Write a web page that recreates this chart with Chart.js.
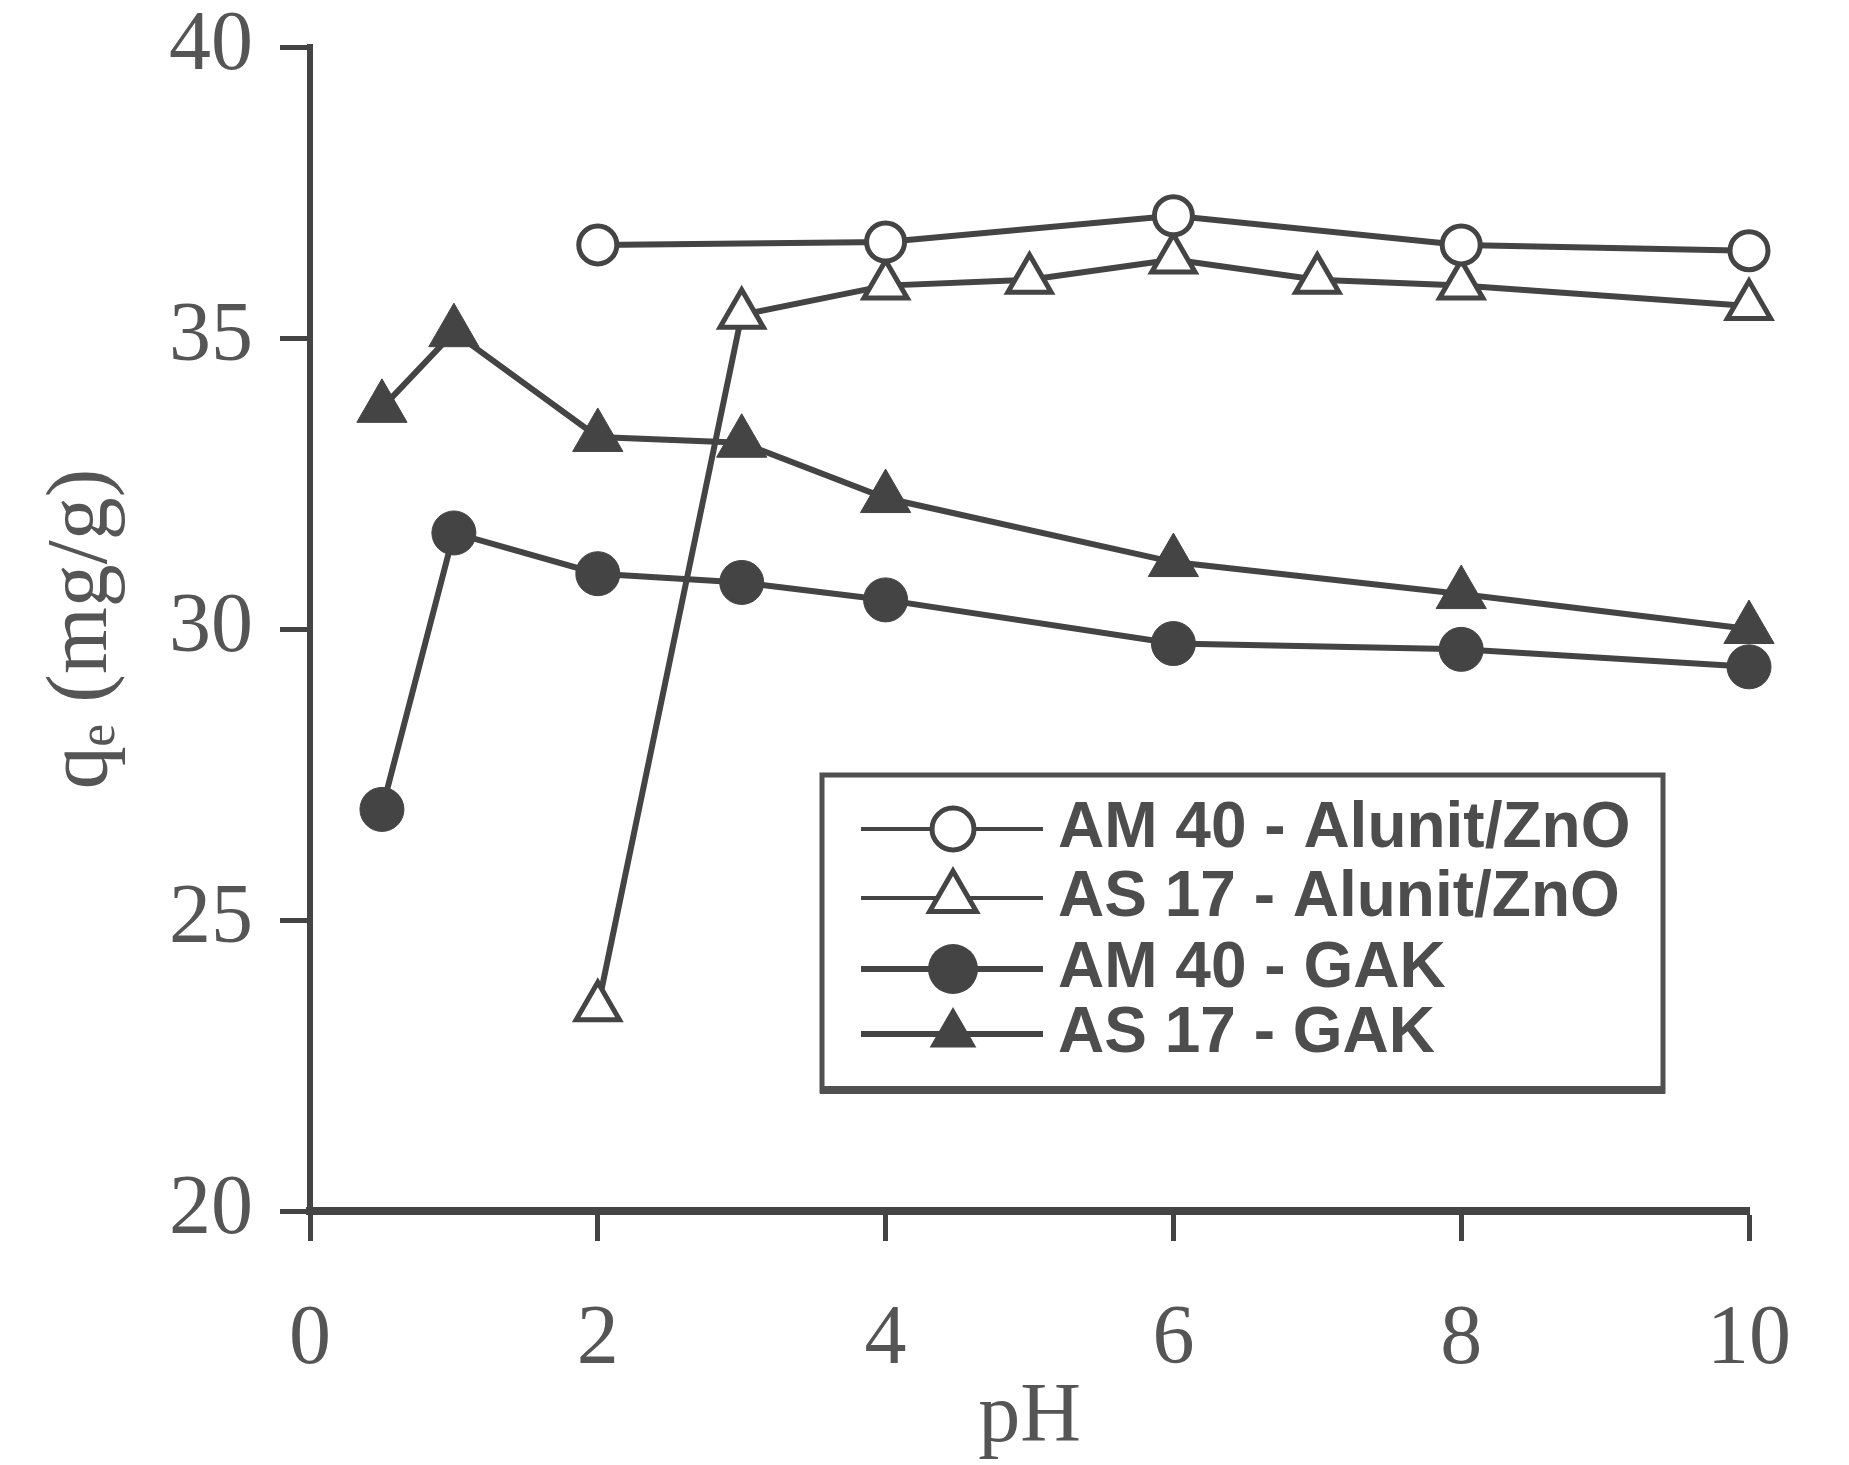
<!DOCTYPE html>
<html>
<head>
<meta charset="utf-8">
<title>qe vs pH</title>
<script src="https://cdn.jsdelivr.net/npm/chart.js@4.4.1/dist/chart.umd.min.js"></script>
<style>
  html, body { margin: 0; padding: 0; background: #fff; }
  #wrap { width: 1849px; height: 1465px; }
</style>
</head>
<body>
<div id="wrap"><canvas id="chart" width="1849" height="1465"></canvas></div>
<script>
// values
const phAmAlunit = [2, 4, 6, 8, 10];
const qeAmAlunit = [36.6, 36.65, 37.1, 36.6, 36.5];

const phAsAlunit = [2, 3, 4, 5, 6, 7, 8, 10];
const qeAsAlunit = [23.5, 35.4, 35.9, 36.0, 36.35, 36.0, 35.9, 35.55];

const phAmGak = [0.5, 1, 2, 3, 4, 6, 8, 10];
const qeAmGak = [26.9, 31.65, 30.95, 30.8, 30.5, 29.75, 29.65, 29.35];

const phAsGak = [0.5, 1, 2, 3, 4, 6, 8, 10];
const qeAsGak = [33.8, 35.1, 33.3, 33.2, 32.25, 31.15, 30.6, 30.0];

const labels = ['AM 40 - Alunit/ZnO', 'AS 17 - Alunit/ZnO', 'AM 40 - GAK', 'AS 17 - GAK'];
const xTicks = [0, 2, 4, 6, 8, 10];
const yTicks = [20, 25, 30, 35, 40];

const ink = '#444444';
const textInk = '#555555';
const serif = '"Liberation Serif", "DejaVu Serif", serif';

function pts(xs, ys) {
    return xs.map((x, i) => ({ x: x, y: ys[i] }));
}

// own legend with a framed box, drawn from the datasets
function drawMarker(ctx, style, r, filled, x, y) {
    ctx.beginPath();
    if (style === 'circle') {
        ctx.arc(x, y, r, 0, Math.PI * 2);
    } else {
        ctx.moveTo(x, y - r);
        ctx.lineTo(x + Math.sin(2 * Math.PI / 3) * r, y + r / 2);
        ctx.lineTo(x - Math.sin(2 * Math.PI / 3) * r, y + r / 2);
        ctx.closePath();
    }
    if (filled) {
        ctx.fillStyle = ink;
        ctx.fill();
    } else {
        ctx.fillStyle = '#fff';
        ctx.fill();
        ctx.lineWidth = 5;
        ctx.strokeStyle = ink;
        ctx.stroke();
    }
}

const boxLegend = {
    id: 'boxLegend',
    afterDraw(chart) {
        const ctx = chart.ctx;
        ctx.save();
        ctx.strokeStyle = '#505050';
        ctx.lineWidth = 5;
        ctx.strokeRect(822, 775, 841, 316);
        ctx.lineWidth = 8;
        ctx.beginPath();
        ctx.moveTo(820, 1090);
        ctx.lineTo(1665, 1090);
        ctx.stroke();

        const rows = [829, 898, 969, 1034];
        const legendR = [21, 27, 25, 27];
        const lineW = [4, 4, 6, 6];
        chart.data.datasets.forEach((ds, i) => {
            const y = rows[i];
            ctx.strokeStyle = ink;
            ctx.lineWidth = lineW[i];
            ctx.beginPath();
            ctx.moveTo(861, y);
            ctx.lineTo(1043, y);
            ctx.stroke();
            drawMarker(ctx, ds.pointStyle, legendR[i], ds.pointBackgroundColor === ink, 953, y);
            ctx.fillStyle = '#4d4d4d';
            ctx.font = 'bold 64px "Liberation Sans", Arial, sans-serif';
            ctx.textAlign = 'left';
            ctx.textBaseline = 'middle';
            ctx.fillText(ds.label, 1058, y);
        });
        ctx.restore();
    }
};

const ctx = document.getElementById('chart').getContext('2d');
new Chart(ctx, {
    type: 'line',
    data: {
        datasets: [
            {
                label: labels[0], data: pts(phAmAlunit, qeAmAlunit), clip: false,
                borderColor: ink, borderWidth: 6,
                pointStyle: 'circle', pointRadius: 19, pointBorderWidth: 5,
                pointBackgroundColor: '#ffffff', pointBorderColor: ink
            },
            {
                label: labels[1], data: pts(phAsAlunit, qeAsAlunit), clip: false,
                borderColor: ink, borderWidth: 6,
                pointStyle: 'triangle', pointRadius: 25, pointBorderWidth: 5,
                pointBackgroundColor: '#ffffff', pointBorderColor: ink
            },
            {
                label: labels[2], data: pts(phAmGak, qeAmGak), clip: false,
                borderColor: ink, borderWidth: 6,
                pointStyle: 'circle', pointRadius: 22, pointBorderWidth: 1,
                pointBackgroundColor: ink, pointBorderColor: ink
            },
            {
                label: labels[3], data: pts(phAsGak, qeAsGak), clip: false,
                borderColor: ink, borderWidth: 6,
                pointStyle: 'triangle', pointRadius: 29, pointBorderWidth: 1,
                pointBackgroundColor: ink, pointBorderColor: ink
            }
        ]
    },
    options: {
        responsive: false,
        animation: false,
        devicePixelRatio: 1,
        layout: { padding: { left: 40, top: 47, right: 96, bottom: 4 } },
        plugins: {
            legend: { display: false },
            tooltip: { enabled: false }
        },
        scales: {
            x: {
                type: 'linear',
                min: 0, max: 10,
                afterFit: (s) => { s.height = 250; },
                afterBuildTicks: (s) => { s.ticks = xTicks.map(v => ({ value: v })); },
                border: { display: true, color: ink, width: 8 },
                grid: { drawOnChartArea: false, drawTicks: true, tickLength: 30, tickWidth: 5, tickColor: ink },
                ticks: {
                    color: textInk, padding: 58,
                    font: { family: serif, size: 84, lineHeight: 1 }
                },
                title: {
                    display: true, text: 'pH', color: textInk,
                    padding: 0,
                    font: { family: serif, size: 84, lineHeight: 1 }
                }
            },
            y: {
                type: 'linear',
                min: 20, max: 40,
                afterFit: (s) => {
                    s.width = 270;
                    s.paddingTop = 0;
                    s.paddingBottom = 0;
                },
                afterBuildTicks: (s) => { s.ticks = yTicks.map(v => ({ value: v })); },
                border: { display: true, color: ink, width: 6 },
                grid: { drawOnChartArea: false, drawTicks: true, tickLength: 30, tickWidth: 5, tickColor: ink },
                ticks: {
                    color: textInk, padding: 27,
                    font: { family: serif, size: 84, lineHeight: 1 }
                },
                title: {
                    display: true, text: 'qₑ (mg/g)', color: textInk,
                    padding: 0,
                    font: { family: serif, size: 86, lineHeight: 1 }
                }
            }
        }
    },
    plugins: [boxLegend]
});
</script>
</body>
</html>
